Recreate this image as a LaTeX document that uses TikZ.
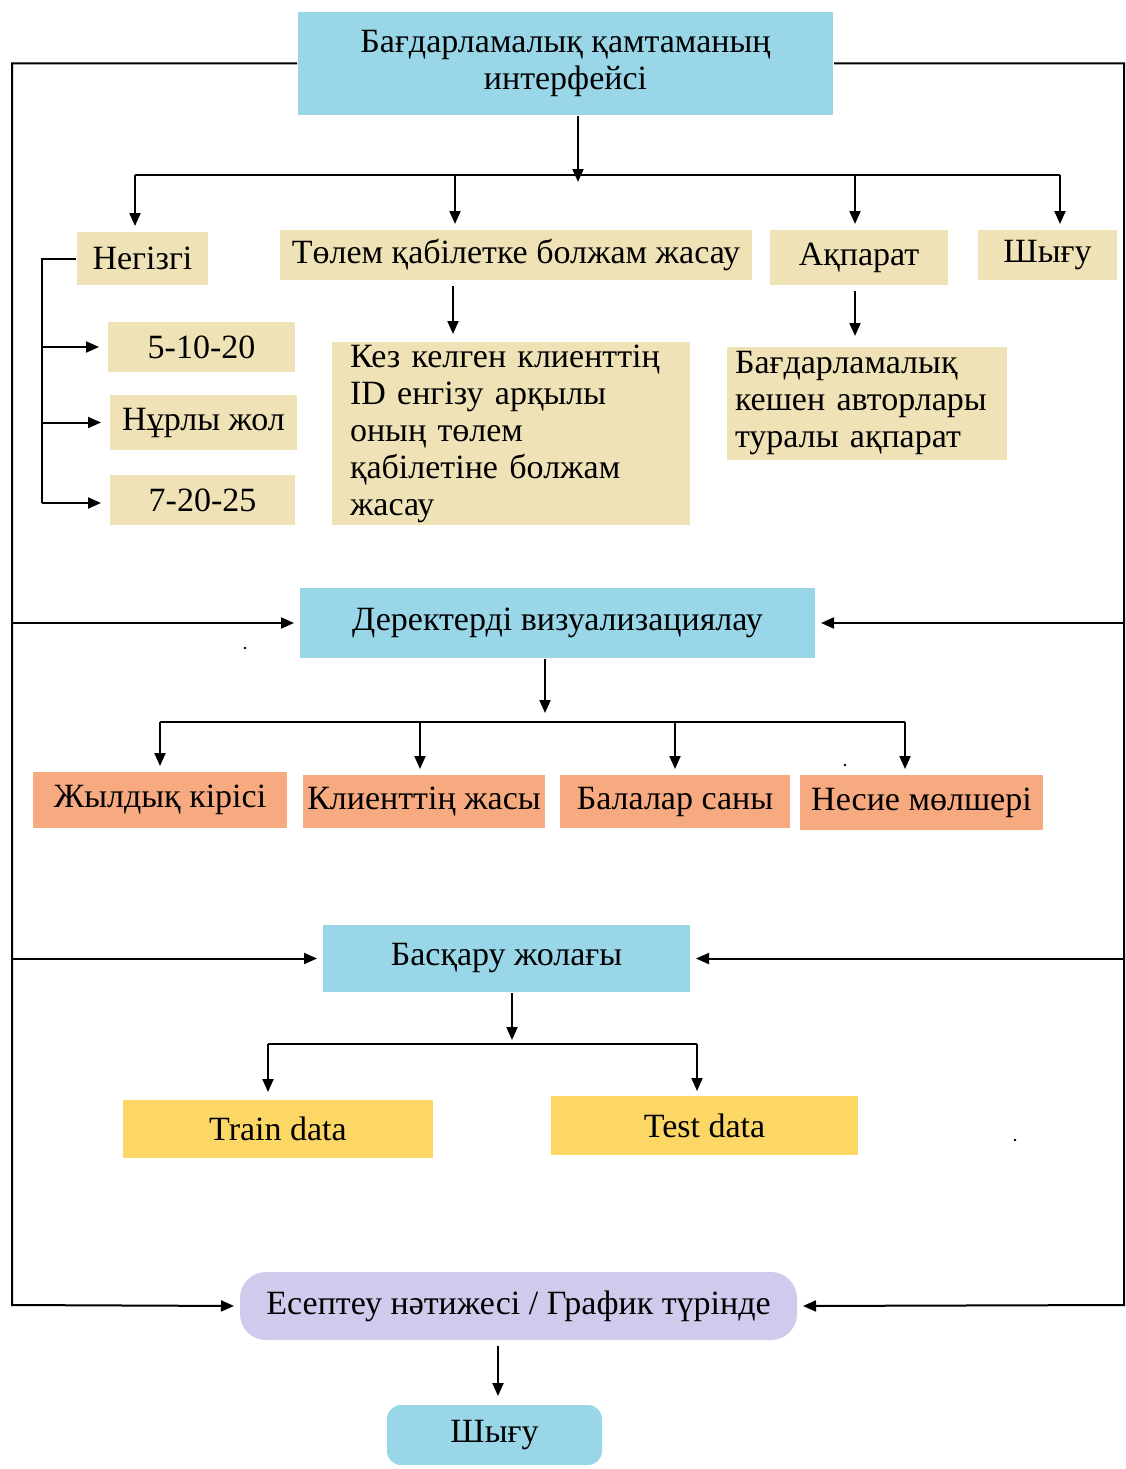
\documentclass[tikz,border=0pt]{standalone}
\usepackage{fontspec}
\setmainfont{Liberation Serif}
\usetikzlibrary{arrows.meta}
\definecolor{panelblue}{RGB}{152,214,232}
\definecolor{sand}{RGB}{238,226,182}
\definecolor{peach}{RGB}{247,170,128}
\definecolor{gold}{RGB}{252,215,102}
\definecolor{lilac}{RGB}{210,202,236}
\begin{document}
\begin{tikzpicture}[x=1pt,y=-1pt,line width=2pt,
  >={Triangle[length=13pt,width=11pt]},
  box/.style={inner sep=0pt,font=\fontsize{34}{37}\selectfont},
  bluebox/.style={box,fill=panelblue},
  sandbox/.style={box,fill=sand},
  peachbox/.style={box,fill=peach},
  goldbox/.style={box,fill=gold},
  gap/.style={shorten >=5pt}]
\useasboundingbox[fill=white] (0,0) rectangle (1126,1469);

% main interface box
\node[bluebox,minimum width=535,minimum height=103,align=center] (ui) at (565.5,63.5)
  {Бағдарламалық қамтаманың\\интерфейсі};

% first level menu
\node[sandbox,minimum width=131,minimum height=53] (neg) at (142.5,258.5) {Негізгі};
\node[sandbox,minimum width=472,minimum height=50] (tolem) at (516,255) {Төлем қабілетке болжам жасау};
\node[sandbox,minimum width=178,minimum height=55] (akp) at (859,257.5) {Ақпарат};
\node[sandbox,minimum width=139,minimum height=50] (shy) at (1047.5,255) {Шығу};

% sub-items of the main menu
\node[sandbox,minimum width=187,minimum height=50] (s1) at (201.5,347) {5-10-20\hspace{38pt}};
\node[sandbox,minimum width=187,minimum height=55] (s2) at (203.5,422.5) {Нұрлы жол};
\node[sandbox,minimum width=185,minimum height=50] (s3) at (202.5,500) {7-20-25\hspace{24pt}};

\node[sandbox,minimum width=358,minimum height=183,text width=322,inner xsep=18pt,align=left] (kez) at (511,433.5)
  {Кез келген клиенттің\\ID енгізу арқылы\\оның төлем\\қабілетіне болжам\\жасау};
\node[sandbox,minimum width=280,minimum height=113,text width=264,inner xsep=8pt,align=left] (auth) at (867,403.5)
  {Бағдарламалық\\кешен авторлары\\туралы ақпарат};

% data visualisation
\node[bluebox,minimum width=515,minimum height=70] (viz) at (557.5,623) {Деректерді визуализациялау};
\node[peachbox,minimum width=254,minimum height=56] (f1) at (160,800) {Жылдық кірісі\hspace{30pt}};
\node[peachbox,minimum width=242,minimum height=53] (f2) at (424,801.5) {Клиенттің жасы};
\node[peachbox,minimum width=230,minimum height=53] (f3) at (675,801.5) {Балалар саны};
\node[peachbox,minimum width=243,minimum height=55] (f4) at (921.5,802.5) {Несие мөлшері};

% control panel
\node[bluebox,minimum width=367,minimum height=67] (ctl) at (506.5,958.5) {Басқару жолағы};
\node[goldbox,minimum width=310,minimum height=58] (train) at (278,1129) {Train data\hspace{62pt}};
\node[goldbox,minimum width=307,minimum height=59] (test) at (704.5,1125.5) {Test data\hspace{34pt}};

% result and exit
\node[box,fill=lilac,rounded corners=26pt,minimum width=557,minimum height=68] (res) at (518.5,1306)
  {Есептеу нәтижесі / График түрінде};
\node[box,fill=panelblue,rounded corners=14pt,minimum width=215,minimum height=60] (out) at (494.5,1435) {Шығу};

% outer feedback lines
\coordinate (lbot) at (12,1305);
\coordinate (rbot) at (1124,1305);
\draw[->,gap] (ui.west) -| (lbot) -- (res.west);
\draw[->,gap] (ui.east) -| (rbot) -- (res.east);
\draw[->,gap] (lbot |- viz.west) -- (viz.west);
\draw[->,gap] (rbot |- viz.east) -- (viz.east);
\draw[->,gap] (lbot |- ctl.west) -- (ctl.west);
\draw[->,gap] (rbot |- ctl.east) -- (ctl.east);

% top distribution bus
\coordinate (t0) at (135,175);
\coordinate (ta) at (578,175);
\coordinate (t1) at (455,175);
\coordinate (t2) at (855,175);
\coordinate (t3) at (1060,175);
\draw[->] (ui.south -| ta) -- ([yshift=-7pt]ta);
\draw (t0) -- (t3);
\draw[->,gap] (t0) -- (t0 |- neg.north);
\draw[->,gap] (t1) -- (t1 |- tolem.north);
\draw[->,gap] (t2) -- (t2 |- akp.north);
\draw[->,gap] (t3) -- (t3 |- shy.north);

% bracket for the main menu items
\coordinate (nb) at (42,503);
\draw (neg.west) -| (nb);
\draw[->,shorten >=8pt] (nb |- s1.west) -- (s1.west);
\draw[->,shorten >=8pt] (nb |- s2.west) -- (s2.west);
\draw[->,shorten >=8pt] (nb) -- (nb -| s3.west);

\coordinate (ka) at (453,0);
\coordinate (kb) at (855,0);
\draw[->,shorten <=5pt,shorten >=7pt] (tolem.south -| ka) -- (kez.north -| ka);
\draw[->,shorten <=5pt,shorten >=10pt] (akp.south -| kb) -- (auth.north -| kb);

% visualisation bus
\coordinate (va) at (545,722);
\coordinate (v1) at (160,722);
\coordinate (v2) at (420,722);
\coordinate (v3) at (675,722);
\coordinate (v4) at (905,722);
\draw[->,shorten >=9pt] (viz.south -| va) -- (va);
\draw (v1) -- (v4);
\draw[->,gap] (v1) -- (v1 |- f1.north);
\draw[->,gap] (v2) -- (v2 |- f2.north);
\draw[->,gap] (v3) -- (v3 |- f3.north);
\draw[->,gap] (v4) -- (v4 |- f4.north);

% control bus
\coordinate (ca) at (512,1044);
\coordinate (c1) at (268,1044);
\coordinate (c2) at (697,1044);
\draw[->,shorten >=4pt] (ctl.south -| ca) -- (ca);
\draw (c1) -- (c2);
\draw[->,shorten >=7pt] (c1) -- (c1 |- train.north);
\draw[->,shorten >=4pt] (c2) -- (c2 |- test.north);

% result to exit
\coordinate (ra) at (498,0);
\draw[->,shorten <=5pt,shorten >=8pt] (res.south -| ra) -- (out.north -| ra);

% small specks
\fill (245,648) circle (1.3pt);
\fill (845,765) circle (1.3pt);
\fill (1015,1140) circle (1.3pt);
\end{tikzpicture}
\end{document}
